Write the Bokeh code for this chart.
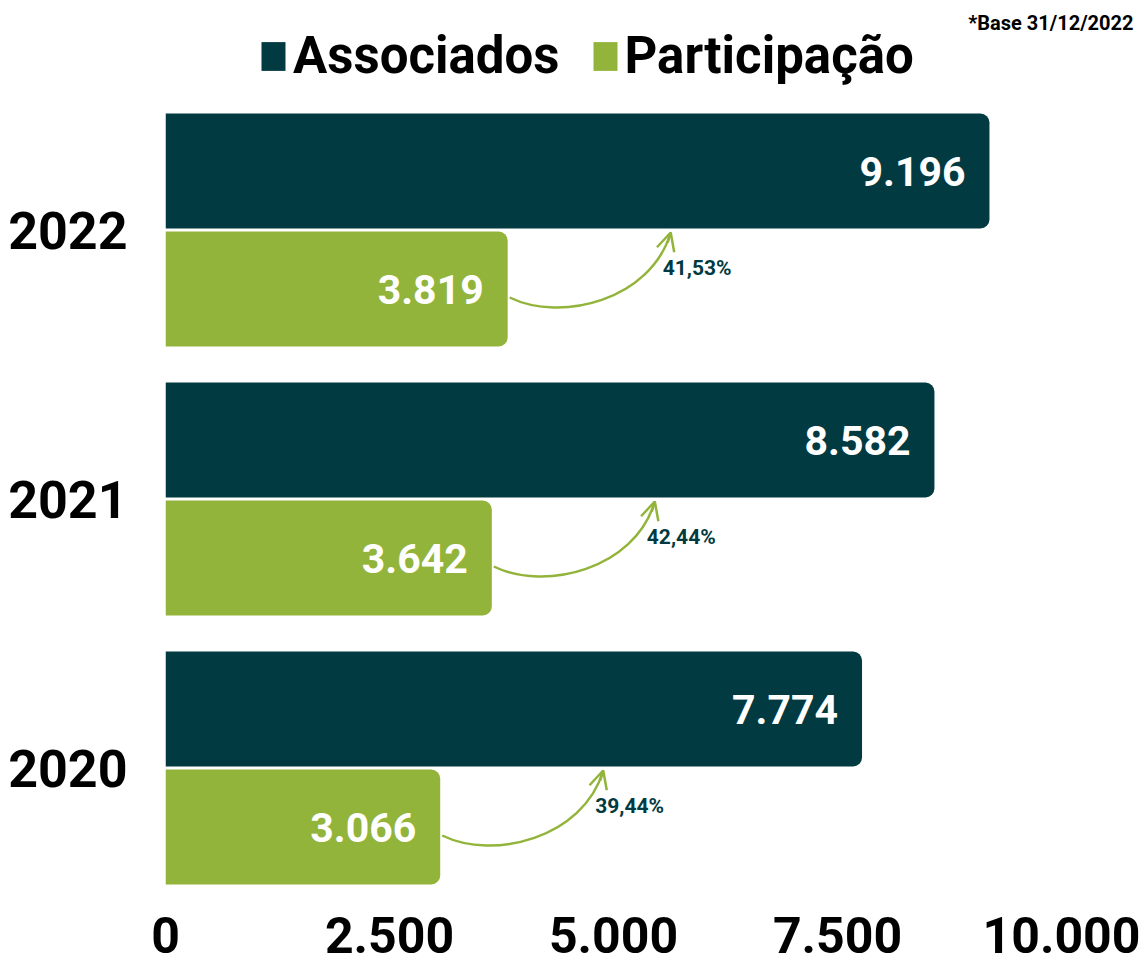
from bokeh.plotting import figure
from bokeh.models import (Range1d, FixedTicker, ColumnDataSource, Legend, LegendItem,
                          Label, Arrow, OpenHead)
from bokeh.core.properties import value
from bokeh.embed import file_html
from bokeh.resources import INLINE

# ---------------- data ----------------
years = ["2020", "2021", "2022"]
associados = [7774, 8582, 9196]
participacao = [3066, 3642, 3819]
x_ticks = [0, 2500, 5000, 7500, 10000]
x_tick_labels = ["0", "2.500", "5.000", "7.500", "10.000"]
note_text = "*Base 31/12/2022"
series_names = ["Associados", "Participação"]

# ---------------- style ----------------
DARK = "#023a41"
GREEN = "#93b43a"
FONT = "Roboto"

PXX = 10000 / 896.0   # data units per pixel (x)
PXY = 1 / 269.0       # data units per pixel (y)

W, H = 1141, 966
LEFT, BOTTOM = 165, 66
frame_w = W - LEFT
frame_h = H - BOTTOM

def fmt(v):
    return f"{v:,}".replace(",", ".")

idx = list(range(len(years)))
pct = [f"{p / a * 100:.2f}%".replace(".", ",") for p, a in zip(participacao, associados)]

bar_h = 115 * PXY
y_dark = [i + 59 * PXY for i in idx]
y_green = [i - 59 * PXY for i in idx]

src = ColumnDataSource(dict(
    y_dark=y_dark, y_green=y_green, assoc=associados, part=participacao,
    assoc_lbl=[fmt(v) for v in associados], part_lbl=[fmt(v) for v in participacao],
))

y_top = 2 + 229.5 * PXY
p = figure(width=W, height=H, output_backend="svg", toolbar_location=None,
           x_range=Range1d(0, frame_w * PXX),
           y_range=Range1d(y_top - frame_h * PXY, y_top),
           min_border_left=LEFT, min_border_right=0, min_border_top=0,
           min_border_bottom=BOTTOM)
p.outline_line_color = None
p.xgrid.visible = False
p.ygrid.visible = False
p.background_fill_color = "white"

r_dark = p.hbar(y="y_dark", height=bar_h, left=0, right="assoc", source=src,
                fill_color=DARK, line_color=None, border_radius=(0, 9, 9, 0))
r_green = p.hbar(y="y_green", height=bar_h, left=0, right="part", source=src,
                 fill_color=GREEN, line_color=None, border_radius=(0, 9, 9, 0))

p.text(x="assoc", y="y_dark", text="assoc_lbl", source=src, x_offset=-24,
       text_align="right", text_baseline="middle", text_color="white",
       text_font=value(FONT), text_font_style="bold", text_font_size="41px")
p.text(x="part", y="y_green", text="part_lbl", source=src, x_offset=-24,
       text_align="right", text_baseline="middle", text_color="white",
       text_font=value(FONT), text_font_style="bold", text_font_size="41px")

# curved arrows
arr = dict(x0=[], y0=[], cx0=[], cy0=[], cx1=[], cy1=[], x1=[], y1=[])
heads = dict(xs=[], ys=[], xe=[], ye=[])
pl = dict(x=[], y=[], t=[])
for i, g, t in zip(idx, participacao, pct):
    P0 = (g + 2 * PXX, i - 67.5 * PXY)
    P1 = (g + 53 * PXX, i - 92.5 * PXY)
    P2 = (g + 143 * PXX, i - 70.5 * PXY)
    P3 = (g + 163 * PXX, i - 2.5 * PXY)
    arr["x0"].append(P0[0]); arr["y0"].append(P0[1])
    arr["cx0"].append(P1[0]); arr["cy0"].append(P1[1])
    arr["cx1"].append(P2[0]); arr["cy1"].append(P2[1])
    arr["x1"].append(P3[0]); arr["y1"].append(P3[1])
    heads["xs"].append(P3[0] + 0.15 * (P2[0] - P3[0]))
    heads["ys"].append(P3[1] + 0.15 * (P2[1] - P3[1]))
    heads["xe"].append(P3[0]); heads["ye"].append(P3[1])
    pl["x"].append(g + 155 * PXX); pl["y"].append(i - 37.5 * PXY); pl["t"].append(t)

p.bezier(source=ColumnDataSource(arr), x0="x0", y0="y0", x1="x1", y1="y1",
         cx0="cx0", cy0="cy0", cx1="cx1", cy1="cy1", line_color=GREEN, line_width=2.5)
p.add_layout(Arrow(source=ColumnDataSource(heads), x_start="xs", y_start="ys",
                   x_end="xe", y_end="ye", line_color=GREEN, line_width=2.5,
                   end=OpenHead(size=18, line_color=GREEN, line_width=2.5)))
p.text(source=ColumnDataSource(pl), x="x", y="y", text="t", text_align="left",
       text_baseline="middle", text_color=DARK, text_font=value(FONT),
       text_font_style="bold", text_font_size="21px")

# axes
for ax in (p.xaxis[0], p.yaxis[0]):
    ax.axis_line_color = None
    ax.major_tick_line_color = None
    ax.minor_tick_line_color = None
    ax.major_tick_out = 0
    ax.major_tick_in = 0
    ax.minor_tick_out = 0
    ax.major_label_text_font = FONT
    ax.major_label_text_font_style = "bold"
    ax.major_label_text_color = "black"

p.xaxis.ticker = FixedTicker(ticks=x_ticks)
p.xaxis.major_label_overrides = {t: l for t, l in zip(x_ticks, x_tick_labels)}
p.xaxis.major_label_text_font_size = "50px"
p.xaxis.major_label_standoff = 16

p.yaxis.ticker = FixedTicker(ticks=idx)
p.yaxis.major_label_overrides = {i: y for i, y in zip(idx, years)}
p.yaxis.major_label_text_font_size = "52px"
p.yaxis.major_label_standoff = 38

# legend
legend = Legend(items=[LegendItem(label=series_names[0], renderers=[r_dark]),
                       LegendItem(label=series_names[1], renderers=[r_green])],
                orientation="horizontal", location=(93, 815),
                padding=0, margin=0, spacing=30, label_standoff=5,
                glyph_width=30, glyph_height=36,
                border_line_color=None, background_fill_alpha=0,
                label_text_font=FONT, label_text_font_style="bold",
                label_text_font_size="51px", label_text_color="black")
p.add_layout(legend, "center")

p.add_layout(Label(x=(1133 - 165) * PXX, y=2 + (229.5 - 22) * PXY,
                   text=note_text, text_align="right", text_baseline="middle",
                   text_font=FONT, text_font_style="bold", text_font_size="20px",
                   text_color="black"))

open("out.html", "w").write(file_html(p, INLINE))
